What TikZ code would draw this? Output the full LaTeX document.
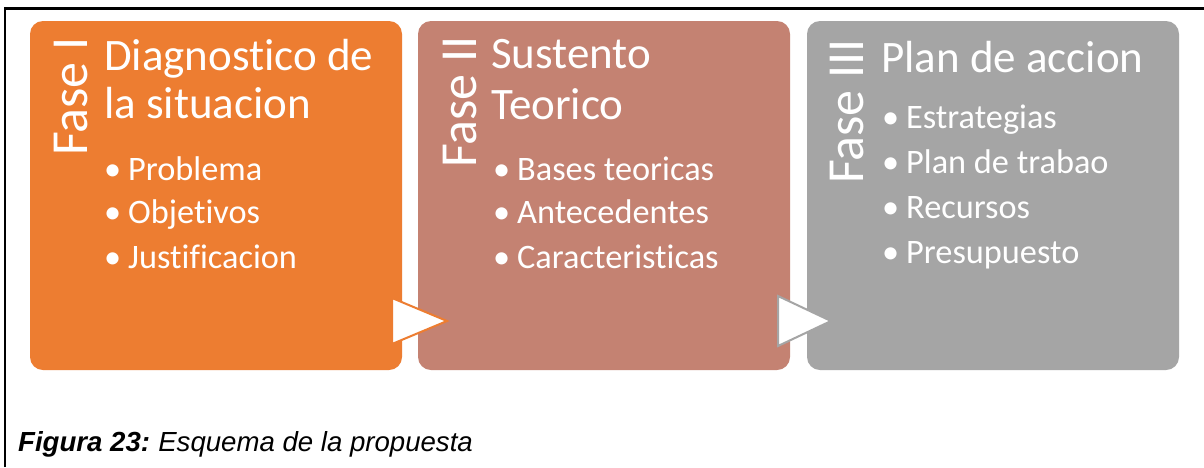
\documentclass[tikz,border=0pt]{standalone}
\usepackage{fontspec}
\setmainfont[Ligatures=NoCommon]{Carlito}
\newfontfamily\capfont{Liberation Sans}
\definecolor{faseA}{HTML}{ED7D31}
\definecolor{faseB}{HTML}{C48272}
\definecolor{faseC}{HTML}{A5A5A5}
\begin{document}
\begin{tikzpicture}[x=1pt,y=-1pt,
  box/.style={rounded corners=13pt},
  tx/.style={anchor=base west,inner sep=0pt,text=white},
  ttl/.style={tx,font=\fontsize{45}{50}\selectfont},
  itm/.style={tx,font=\fontsize{34.3}{40}\selectfont},
  fase/.style={tx,rotate=90,font=\fontsize{52}{60}\selectfont},
  arr/.style={fill=white,line width=2pt,line join=miter}]
\useasboundingbox (0,0) rectangle (1204,467);
\fill[white] (0,0) rectangle (1204,467);
% frame
\coordinate (f1) at (5,467);
\coordinate (f2) at (5,8.5);
\coordinate (f3) at (1204,8.5);
\draw[line width=2.5pt] (f1) -- (f2) -- (f3);
% boxes
\fill[faseA,box] (30,21) rectangle (402,370);
\fill[faseB,box] (418,21) rectangle (790,370);
\fill[faseC,box] (807,21) rectangle (1179,370);
% arrows
\draw[arr,draw=faseA] (392,298) -- (447,321) -- (392,344) -- cycle;
\draw[arr,draw=faseC] (778,296) -- (831,321) -- (778,346) -- cycle;
% box 1
\node[fase] (fA) at (87,156) {Fase I};
\node[ttl] (tA1) at (104,70) {Diagnostico de};
\node[ttl] (tA2) at (104,118) {la situacion};
\node[itm] (iA1) at (104,180) {\makebox[24pt][l]{•}Problema};
\node[itm] (iA2) at (104,223) {\makebox[24pt][l]{•}Objetivos};
\node[itm] (iA3) at (104,268) {\makebox[24pt][l]{•}Justificacion};
% box 2
\node[fase] (fB) at (476,168) {Fase II};
\node[ttl] (tB1) at (491,68) {Sustento};
\node[ttl] (tB2) at (491,119) {Teorico};
\node[itm] (iB1) at (493,180) {\makebox[24pt][l]{•}Bases teoricas};
\node[itm] (iB2) at (493,223) {\makebox[24pt][l]{•}Antecedentes};
\node[itm] (iB3) at (493,268) {\makebox[24pt][l]{•}Caracteristicas};
% box 3
\node[fase] (fC) at (863,184) {Fase III};
\node[ttl] (tC1) at (881,72) {Plan de accion};
\node[itm] (iC1) at (882,128) {\makebox[24pt][l]{•}Estrategias};
\node[itm] (iC2) at (882,173) {\makebox[24pt][l]{•}Plan de trabao};
\node[itm] (iC3) at (882,218) {\makebox[24pt][l]{•}Recursos};
\node[itm] (iC4) at (882,263) {\makebox[24pt][l]{•}Presupuesto};
% caption
\node[anchor=base west,inner sep=0pt,font=\capfont\fontsize{27.6}{34}\selectfont\itshape] (cap) at (18,451) {\textbf{Figura 23:}\hspace{-2pt} Esquema de la propuesta};
\end{tikzpicture}
\end{document}
